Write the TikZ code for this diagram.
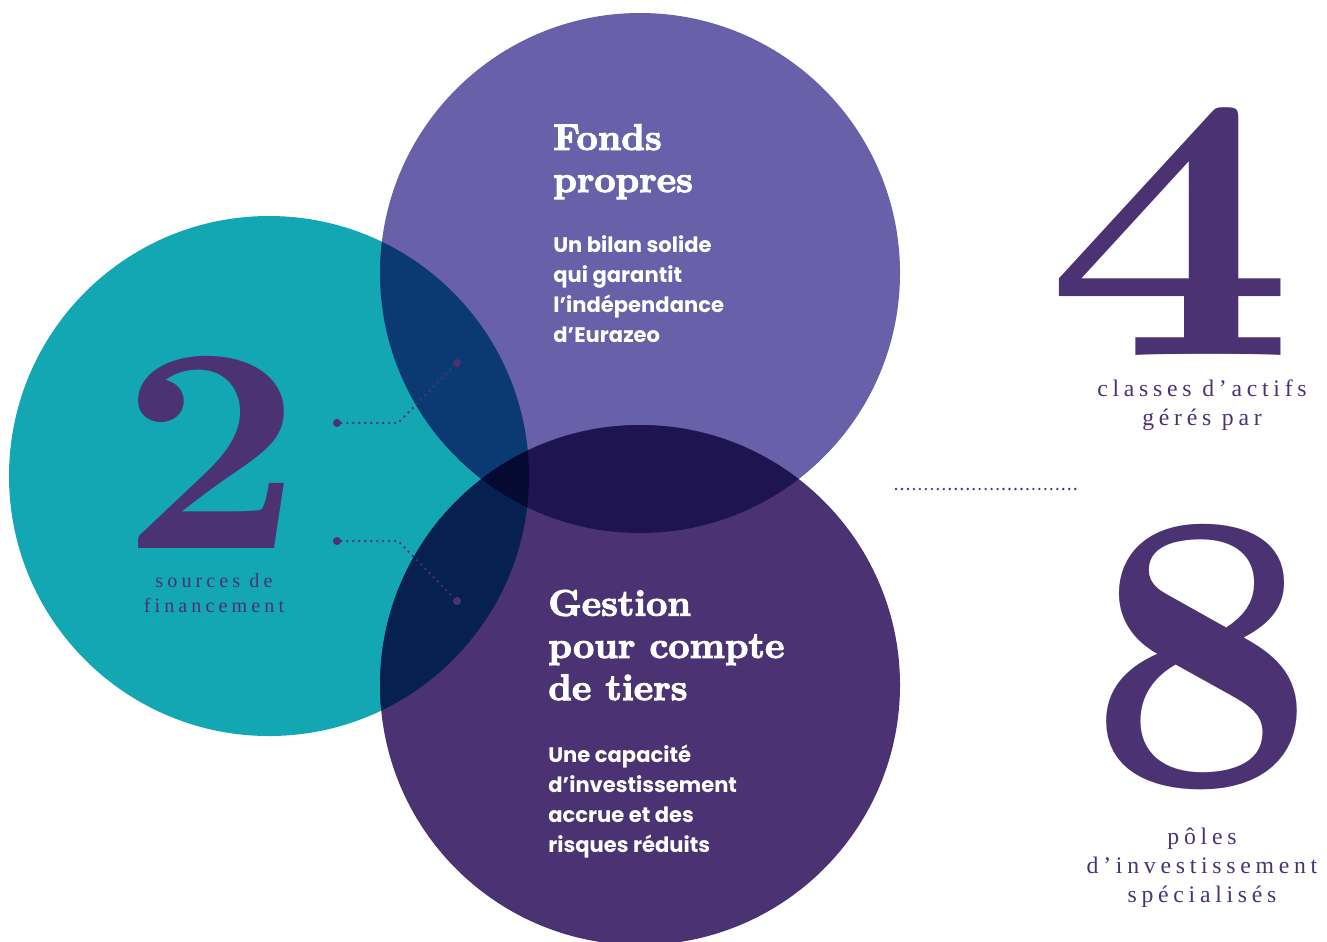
\documentclass[tikz,border=0pt]{standalone}
\usepackage{fontspec}
\newfontfamily\bodyfont{Poppins}
\newfontfamily\headfont{lmroman10-bold.otf}[FakeBold=3]
\newfontfamily\figfont{lmroman10-bold.otf}
\newfontfamily\capfont[LetterSpace=20]{Liberation Serif}
\definecolor{eurazeo}{HTML}{4A3273}
\definecolor{tealfill}{HTML}{13A6B3}
\definecolor{topfill}{HTML}{6860A8}
\definecolor{botfill}{HTML}{4A3273}
\definecolor{tealtop}{HTML}{0A3A71}
\definecolor{tealbot}{HTML}{062050}
\definecolor{topbot}{HTML}{1E1550}
\definecolor{allthree}{HTML}{050A32}
\begin{document}
\begin{tikzpicture}
[x=0.02cm,y=-0.02cm,
  headdecorate/.style={anchor=base west,inner sep=0pt,text=white,align=left,%
    font=\headfont\fontsize{21}{24}\selectfont},%
  bodydecorate/.style={anchor=base west,inner sep=0pt,text=white,align=left,%
    font=\bodyfont\fontsize{12}{17}\selectfont\bfseries},%
  numdecorate/.style={anchor=base,inner sep=0pt,text=eurazeo},%
  capdecorate/.style={anchor=base,inner sep=0pt,text=eurazeo,align=center},%
  dotdecorate/.style={shape=circle,inner sep=0pt,minimum size=0.16cm,fill=eurazeo},%
  linedecorate/.style={eurazeo,line width=1.5pt,line cap=round,dash pattern=on 0pt off 3.4pt}]
\useasboundingbox (0,0) rectangle (1327,941);
%% circles
\foreach \cname/\x/\y/\col in {
  tealc/269/476/tealfill, topc/640/273/topfill, botc/640/685/botfill} {
  \coordinate (\cname) at (\x,\y);
  \fill[\col] (\cname) circle (260);
}
%% overlaps
\begin{scope}
  \clip (tealc) circle (260);
  \fill[tealtop] (topc) circle (260);
  \fill[tealbot] (botc) circle (260);
\end{scope}
\begin{scope}
  \clip (topc) circle (260);
  \fill[topbot] (botc) circle (260);
\end{scope}
\begin{scope}
  \clip (tealc) circle (260);
  \clip (topc) circle (260);
  \fill[allthree] (botc) circle (260);
\end{scope}
%% texts in the circles (base = last line)
\node (fonds) at (553,192) [headdecorate] {Fonds\\propres};
\node (bilan) at (553,342) [bodydecorate] {Un bilan solide\\qui garantit\\l’indépendance\\d’Eurazeo};
\node (gestion) at (548,700) [headdecorate] {Gestion\\pour compte\\de tiers};
\node (capacite) at (548,852) [bodydecorate] {Une capacité\\d’investissement\\accrue et des\\risques réduits};
%% figures
\node (deux) at (212,548) [numdecorate,font=\figfont\fontsize{167}{167}\selectfont] {\scalebox{1.08}[1]{2}};
\node (sources) at (214,612) [capdecorate,font=\capfont\fontsize{11.5}{13.7}\selectfont] {sources de\\financement};
\node (quatre) at (1170,355) [numdecorate,font=\figfont\fontsize{215}{215}\selectfont] {\scalebox{1.15}[1]{4}};
\node (classes) at (1202,425) [capdecorate,font=\capfont\fontsize{13.5}{16.5}\selectfont] {classes d’actifs\\gérés par};
\node (huit) at (1202,785) [numdecorate,font=\figfont\fontsize{227}{227}\selectfont] {8};
\node (poles) at (1202,902) [capdecorate,font=\capfont\fontsize{13.5}{16.5}\selectfont] {pôles\\d’investissement\\spécialisés};
%% dotted links
\foreach \nodename/\x/\y in {
  a1/337/423, b1/457/363, a2/337/541, b2/457/601} {
  \node (\nodename) at (\x,\y) [dotdecorate] {};
}
\coordinate (k1) at (398,423);
\coordinate (k2) at (398,541);
\coordinate (sepL) at (896,489);
\coordinate (sepR) at (1081,489);
\draw[linedecorate] (a1) -- (k1) -- (b1);
\draw[linedecorate] (a2) -- (k2) -- (b2);
\draw[linedecorate] (sepL) -- (sepR);
\end{tikzpicture}
\end{document}
